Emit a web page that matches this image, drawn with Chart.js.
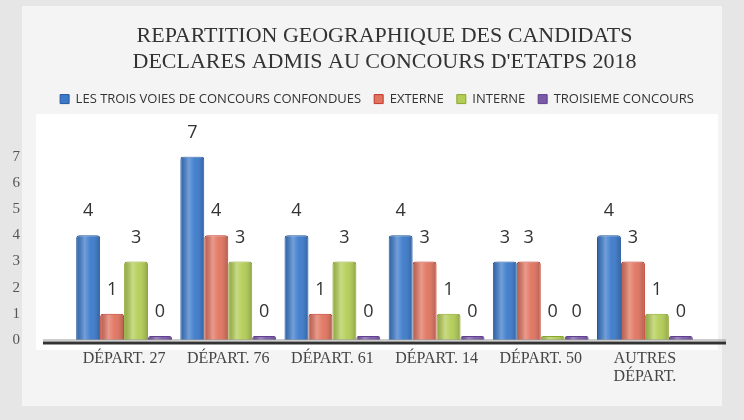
<!DOCTYPE html>
<html>
<head>
<meta charset="utf-8">
<script src="https://cdn.jsdelivr.net/npm/chart.js@4"></script>
<style>
    html, body { margin: 0; padding: 0; background: #ececec; }
    #wrap { width: 744px; height: 420px; position: relative; }
</style>
</head>
<body>
<div id="wrap"><canvas id="newChartCanvas" width="744" height="420"></canvas></div>
<script>
var departements = ['DÉPART. 27', 'DÉPART. 76', 'DÉPART. 61', 'DÉPART. 14', 'DÉPART. 50', ['AUTRES', 'DÉPART.']];
var toutesVoies = [4, 7, 4, 4, 3, 4];
var externe = [1, 4, 1, 3, 3, 3];
var interne = [3, 3, 3, 1, 0, 1];
var troisieme = [0, 0, 0, 0, 0, 0];
var yTicks = [0, 1, 2, 3, 4, 5, 6, 7];

// fond gris du scan + zone blanche du graphique
var backdrop = {
    id: 'backdrop',
    beforeDraw: function(chart) {
        var c = chart.ctx;
        c.save();
        c.fillStyle = '#e6e6e6';
        c.fillRect(0, 0, chart.width, chart.height);
        c.fillStyle = '#f4f4f4';
        c.fillRect(22, 6, 700, 400);
        c.fillStyle = '#ffffff';
        c.fillRect(36, 114, 682, 236);
        c.restore();
    }
};

// marge sous la legende
var legendGap = {
    id: 'legendGap',
    beforeInit: function(chart) {
        var fit = chart.legend.fit;
        chart.legend.fit = function() {
            fit.bind(chart.legend)();
            this.height += 41;
        };
    }
};

// effet cylindre : reflet clair et ombre sur chaque barre
var cylinder = {
    id: 'cylinder',
    afterDatasetsDraw: function(chart) {
        var c = chart.ctx;
        c.save();
        chart.data.datasets.forEach(function(ds, i) {
            chart.getDatasetMeta(i).data.forEach(function(bar) {
                var left = bar.x - bar.width / 2;
                var g = c.createLinearGradient(left, 0, left + bar.width, 0);
                g.addColorStop(0, 'rgba(0,0,0,0.18)');
                g.addColorStop(0.35, 'rgba(255,255,255,0.28)');
                g.addColorStop(0.6, 'rgba(255,255,255,0.05)');
                g.addColorStop(1, 'rgba(0,0,0,0.22)');
                c.fillStyle = g;
                c.fillRect(left + 1, bar.y + 1, bar.width - 2, bar.base - bar.y - 1);
            });
        });
        c.restore();
    }
};

// ligne de base epaisse
var baseLine = {
    id: 'baseLine',
    afterDatasetsDraw: function(chart) {
        var c = chart.ctx;
        var y = chart.scales.y.getPixelForValue(0) + 3;
        c.save();
        c.strokeStyle = '#9a9a9a';
        c.lineWidth = 1;
        c.beginPath();
        c.moveTo(43, y - 3);
        c.lineTo(726, y - 3);
        c.stroke();
        c.strokeStyle = '#333333';
        c.lineWidth = 3;
        c.beginPath();
        c.moveTo(43, y);
        c.lineTo(726, y);
        c.stroke();
        c.restore();
    }
};

// valeurs au-dessus des barres
var valueLabels = {
    id: 'valueLabels',
    afterDatasetsDraw: function(chart) {
        var c = chart.ctx;
        c.save();
        c.font = '18px "Open Sans"';
        c.fillStyle = '#333333';
        c.textAlign = 'center';
        c.textBaseline = 'middle';
        chart.data.datasets.forEach(function(ds, i) {
            chart.getDatasetMeta(i).data.forEach(function(bar, j) {
                c.fillText(String(ds.data[j]), bar.x, bar.y - 24);
            });
        });
        c.restore();
    }
};

var ctx = document.getElementById('newChartCanvas');
var myChart = new Chart(ctx, {
    type: 'bar',
    data: {
        labels: departements,
        datasets: [{
            label: 'LES TROIS VOIES DE CONCOURS CONFONDUES',
            data: toutesVoies,
            backgroundColor: '#3b7acb',
            borderColor: '#24589c',
            borderWidth: 1
        }, {
            label: 'EXTERNE',
            data: externe,
            backgroundColor: '#e1735f',
            borderColor: '#c0382b',
            borderWidth: 1
        }, {
            label: 'INTERNE',
            data: interne,
            backgroundColor: '#b3cd55',
            borderColor: '#8ba631',
            borderWidth: 1
        }, {
            label: 'TROISIEME CONCOURS',
            data: troisieme,
            backgroundColor: '#7b5aa8',
            borderColor: '#5f4190',
            borderWidth: 1
        }]
    },
    options: {
        responsive: false,
        animation: false,
        layout: { padding: { left: 10, right: 0, top: 0, bottom: 0 } },
        datasets: {
            bar: {
                categoryPercentage: 0.92,
                barPercentage: 1.0,
                minBarLength: 4,
                borderRadius: { topLeft: 3, topRight: 3 }
            }
        },
        plugins: {
            title: {
                display: true,
                fullSize: false,
                text: ['REPARTITION GEOGRAPHIQUE DES CANDIDATS', "DECLARES ADMIS AU CONCOURS D'ETATPS 2018"],
                font: { family: '"Liberation Serif"', size: 22, weight: 'normal', lineHeight: 1.15 },
                color: '#333333',
                padding: { top: 24, bottom: 5 }
            },
            legend: {
                position: 'top',
                labels: {
                    boxWidth: 9,
                    boxHeight: 9,
                    padding: 13,
                    color: '#333333',
                    font: { family: '"Open Sans"', size: 13 }
                }
            },
            tooltip: { enabled: false }
        },
        scales: {
            x: {
                grid: { display: false, drawTicks: false },
                border: { display: false },
                ticks: {
                    color: '#444444',
                    padding: 10,
                    maxRotation: 0,
                    autoSkip: false,
                    font: { family: '"Liberation Serif"', size: 16, lineHeight: 1.1 }
                },
                afterFit: function(scale) { scale.height = 80; }
            },
            y: {
                min: 0,
                max: 7,
                afterBuildTicks: function(scale) {
                    scale.ticks = yTicks.map(function(v) { return { value: v }; });
                },
                grid: { display: false, drawTicks: false },
                border: { display: false },
                ticks: {
                    color: '#555555',
                    padding: 52,
                    font: { family: '"Liberation Serif"', size: 15 }
                },
                afterFit: function(scale) { scale.width = 62; }
            },
            marge: {
                type: 'linear',
                position: 'right',
                grid: { display: false, drawTicks: false },
                border: { display: false },
                ticks: { display: false },
                afterFit: function(scale) { scale.width = 47; }
            }
        }
    },
    plugins: [backdrop, legendGap, cylinder, baseLine, valueLabels]
});
</script>
</body>
</html>
